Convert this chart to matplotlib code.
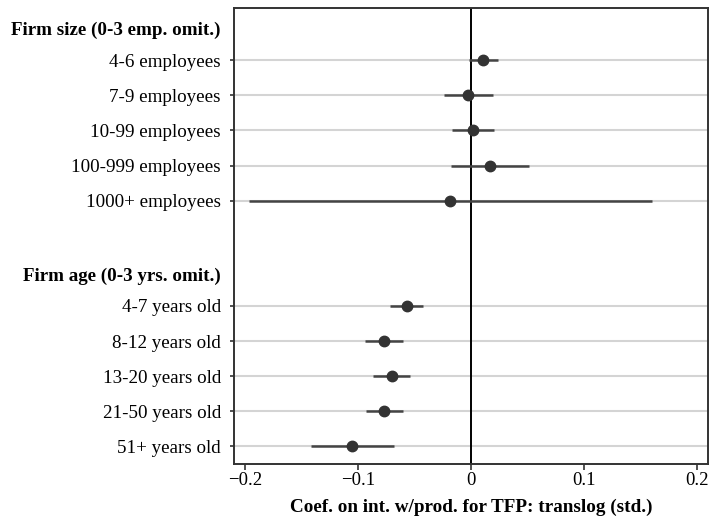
import matplotlib
matplotlib.use("Agg")
import matplotlib.pyplot as plt
import numpy as np

plt.rcParams['font.family'] = ['Liberation Serif', 'DejaVu Serif']

labels = ["Firm size (0-3 emp. omit.)", "4-6 employees", "7-9 employees", "10-99 employees",
          "100-999 employees", "1000+ employees", "",
          "Firm age (0-3 yrs. omit.)", "4-7 years old", "8-12 years old", "13-20 years old",
          "21-50 years old", "51+ years old"]
is_header = [True, False, False, False, False, False, True,
             True, False, False, False, False, False]

coef = [np.nan, 0.0104, -0.0032, 0.0015, 0.0165, -0.0186, np.nan,
        np.nan, -0.0572, -0.0773, -0.0704, -0.0770, -0.1053]
ci_lo = [np.nan, -0.0023, -0.0244, -0.0171, -0.0180, -0.1965, np.nan,
         np.nan, -0.0719, -0.0941, -0.0867, -0.0932, -0.1421]
ci_hi = [np.nan, 0.0234, 0.0192, 0.0201, 0.0513, 0.1599, np.nan,
         np.nan, -0.0425, -0.0604, -0.0542, -0.0604, -0.0681]

xticks = [-0.2, -0.1, 0, 0.1, 0.2]
xticklabels = ["\u22120.2", "\u22120.1", "0", "0.1", "0.2"]
xlabel = "Coef. on int. w/prod. for TFP: translog (std.)"

fig = plt.figure(figsize=(7.10, 5.19), dpi=100)
ax = fig.add_axes([0.3296, 0.106, 0.6676, 0.8795])

ypos = np.arange(len(labels)).astype(float)
for i, y in enumerate(ypos):
    if is_header[i]:
        continue
    ax.axhline(y, color="#d4d4d4", lw=1.5, zorder=1)
    ax.plot([ci_lo[i], ci_hi[i]], [y, y], color="#444444", lw=1.8, zorder=3,
            solid_capstyle="butt")
    ax.plot(coef[i], y, "o", color="#333333", ms=7.5, zorder=4)

ax.axvline(0, color="black", lw=1.4, zorder=2)

# header labels sit slightly below their slot
tick_pos = np.where(is_header, ypos + 0.09, ypos)

ax.set_xlim(-0.21, 0.2095)
ax.set_ylim(len(labels) - 0.5, -0.5)
ax.set_xticks(xticks)
ax.set_xticklabels(xticklabels, fontsize=13.5)
ax.set_yticks(tick_pos)
ax.set_yticklabels(labels, fontsize=13.7)
for i, (t, lab) in enumerate(zip(ax.yaxis.get_major_ticks(), ax.get_yticklabels())):
    if is_header[i]:
        t.tick1line.set_visible(False)
        lab.set_fontweight("bold")
ax.tick_params(axis="y", length=3, width=1.2, pad=6.5, color="#333333")
ax.tick_params(axis="x", length=4.5, width=1.2, pad=1.5, color="#333333")
ax.set_xlabel(xlabel, fontsize=13.8, fontweight="bold", labelpad=6.5)

for s in ax.spines.values():
    s.set_color("#333333")
    s.set_linewidth(1.4)

fig.savefig("out.png", dpi=100)
